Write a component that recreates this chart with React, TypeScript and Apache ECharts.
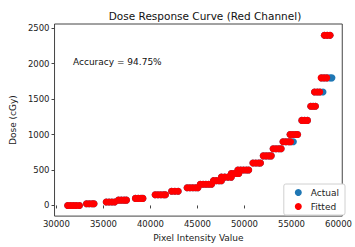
import React, { useEffect, useRef } from "react";
import * as echarts from "echarts";

const title = "Dose Response Curve (Red Channel)";
const accuracyText = "Accuracy = 94.75%";
const xTicks = [30000, 35000, 40000, 45000, 50000, 55000, 60000];
const yTicks = [0, 500, 1000, 1500, 2000, 2500];

// dose levels (cGy)
const doses = [0, 25, 50, 75, 100, 150, 200, 250, 300, 350, 400, 450, 500, 600, 700, 800, 900, 1000, 1200, 1400, 1600, 1800, 2400];

// actual pixel values per dose level
const actualPixels: number[][] = [
  [31200, 31500, 31800, 32100, 32450],
  [33200, 33500, 33800, 34000],
  [35300, 35600, 35900, 36200],
  [36600, 36900, 37200, 37450],
  [38400, 38700, 39000, 39200],
  [40500, 40800, 41100, 41400, 41600],
  [42250, 42600, 42950],
  [43900, 44200, 44500, 44800, 45050],
  [45300, 45600, 45900, 46200, 46500],
  [46700, 47000, 47300, 47550],
  [47550, 47900, 48250, 48600],
  [48600, 48900, 49200, 49400],
  [49300, 49600, 49900, 50200, 50450],
  [50900, 51200, 51500, 51700],
  [52000, 52300, 52600, 52850],
  [53050, 53350, 53650, 53900],
  [54100, 54400, 54700, 54950, 55200],
  [54850, 55150, 55450, 55650],
  [56100, 56400, 56700],
  [57050, 57300, 57550],
  [57450, 57750, 58050, 58350],
  [58200, 58500, 58800, 59100, 59300],
  [58500, 58800, 59100],
];

// fitted pixel values per dose level
const fittedPixels: number[][] = [
  [31200, 31500, 31800, 32100, 32450],
  [33200, 33500, 33800, 34000],
  [35300, 35600, 35900, 36200],
  [36600, 36900, 37200, 37450],
  [38400, 38700, 39000, 39200],
  [40500, 40800, 41100, 41400, 41600],
  [42250, 42600, 42950],
  [43900, 44200, 44500, 44800, 45050],
  [45300, 45600, 45900, 46200, 46500],
  [46700, 47000, 47300, 47550],
  [47550, 47900, 48250, 48600],
  [48600, 48900, 49200, 49400],
  [49300, 49600, 49900, 50200, 50450],
  [50900, 51200, 51500, 51700],
  [52000, 52300, 52600, 52850],
  [53050, 53350, 53650, 53900],
  [54100, 54400, 54700, 54900],
  [54850, 55150, 55450, 55650],
  [56100, 56400, 56700],
  [57050, 57300, 57550],
  [57450, 57750, 58000],
  [58150, 58450, 58750],
  [58500, 58800, 59100],
];

const toPoints = (pix: number[][]) => {
  const pts: number[][] = [];
  pix.forEach((row, i) => row.forEach((p) => pts.push([p, doses[i]])));
  return pts;
};

const FONT = "DejaVu Sans";
const plain = (v: number) => String(v);

export default function App() {
  const ref = useRef<HTMLDivElement>(null);
  useEffect(() => {
    if (!ref.current) return;
    const chart = echarts.init(ref.current, null, { renderer: "svg" });
    chart.setOption({
      animation: false,
      backgroundColor: "#ffffff",
      textStyle: { fontFamily: FONT },
      title: {
        text: title,
        left: 205,
        textAlign: "center",
        top: 10,
        padding: 0,
        textStyle: { fontFamily: FONT, fontSize: 10.5, fontWeight: "normal", color: "#111" },
      },
      grid: {
        left: 53,
        top: 24,
        width: 294,
        height: 197,
        show: true,
        borderColor: "#444",
        borderWidth: 1,
        backgroundColor: "#fff",
      },
      legend: {
        orient: "vertical",
        right: 10,
        bottom: 32,
        data: ["Actual", "Fitted"],
        icon: "circle",
        itemWidth: 7,
        itemHeight: 7,
        itemGap: 5,
        padding: [4, 6, 4, 11],
        borderColor: "#d0d0d0",
        borderWidth: 1,
        borderRadius: 2,
        backgroundColor: "#fff",
        textStyle: { fontFamily: FONT, fontSize: 9, color: "#222", padding: [0, 0, 0, 4] },
      },
      xAxis: {
        type: "value",
        min: 29800,
        max: 60400,
        name: "Pixel Intensity Value",
        nameLocation: "middle",
        nameGap: 16,
        nameTextStyle: { fontFamily: FONT, fontSize: 9, color: "#222" },
        splitLine: { show: false },
        axisLine: { show: false },
        axisTick: { show: true, length: 3, customValues: xTicks, lineStyle: { color: "#444" } },
        axisLabel: { customValues: xTicks, formatter: plain, fontSize: 8.5, color: "#222", margin: 3, fontFamily: FONT },
      },
      yAxis: {
        type: "value",
        min: -150,
        max: 2560,
        name: "Dose (cGy)",
        nameLocation: "middle",
        nameGap: 35,
        nameTextStyle: { fontFamily: FONT, fontSize: 9, color: "#222" },
        splitLine: { show: false },
        axisLine: { show: false },
        axisTick: { show: true, length: 3, customValues: yTicks, lineStyle: { color: "#444" } },
        axisLabel: { customValues: yTicks, formatter: plain, fontSize: 8.5, color: "#222", margin: 5, fontFamily: FONT },
      },
      graphic: [
        {
          type: "text",
          left: 73,
          top: 57,
          style: { text: accuracyText, fontFamily: FONT, fontSize: 9, fill: "#111" },
        },
      ],
      series: [
        {
          name: "Actual",
          type: "scatter",
          symbol: "circle",
          symbolSize: 7,
          itemStyle: { color: "#1f77b4", opacity: 1 },
          data: toPoints(actualPixels),
        },
        {
          name: "Fitted",
          type: "scatter",
          symbol: "circle",
          symbolSize: 7,
          itemStyle: { color: "#ff0000", opacity: 1 },
          data: toPoints(fittedPixels),
        },
      ],
    });
    return () => chart.dispose();
  }, []);
  return (
    <div
      ref={ref}
      style={{ position: "absolute", left: 0, top: 0, width: 355, height: 247 }}
    />
  );
}
